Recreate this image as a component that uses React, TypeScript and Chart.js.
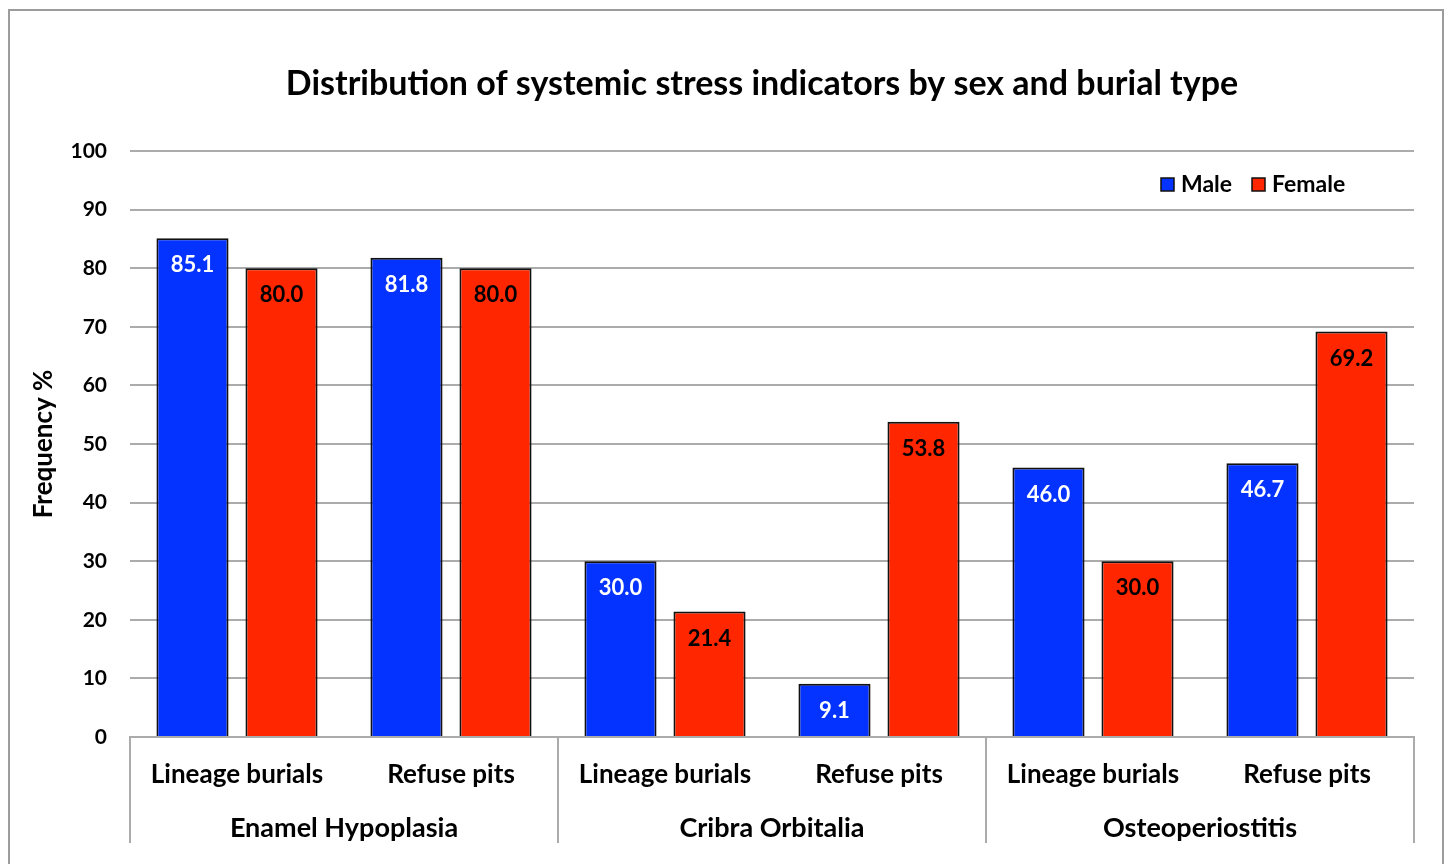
import React, { useEffect, useRef } from "react";
import { Chart, registerables } from "chart.js";

Chart.register(...registerables);

const categories = [
  "Lineage burials",
  "Refuse pits",
  "Lineage burials",
  "Refuse pits",
  "Lineage burials",
  "Refuse pits",
];
const groups = ["Enamel Hypoplasia", "Cribra Orbitalia", "Osteoperiostitis"];
const maleValues = [85.1, 81.8, 30.0, 9.1, 46.0, 46.7];
const femaleValues = [80.0, 80.0, 21.4, 53.8, 30.0, 69.2];
const seriesNames = ["Male", "Female"];
const yTicks = { min: 0, max: 100, step: 10 };
const titleText = "Distribution of systemic stress indicators by sex and burial type";
const yTitle = "Frequency %";

const BLUE = "#0433ff";
const RED = "#ff2600";
const GRID = "#ababab";
const FONT = "Lato, 'Open Sans', sans-serif";

const decor = {
  id: "decor",
  afterDraw(chart: any) {
    const { ctx, chartArea, scales } = chart;
    const x = scales.x;
    ctx.save();
    // outer frame
    ctx.strokeStyle = "#9c9c9c";
    ctx.lineWidth = 2;
    ctx.strokeRect(9, 10, 1434, 900);

    // title
    ctx.fillStyle = "#000";
    ctx.font = `bold 34px ${FONT}`;
    ctx.textAlign = "center";
    ctx.textBaseline = "middle";
    ctx.fillText(titleText, 762, 84);

    // y title
    ctx.save();
    ctx.translate(44, 444);
    ctx.rotate(-Math.PI / 2);
    ctx.font = `bold 26px ${FONT}`;
    ctx.fillText(yTitle, 0, 0);
    ctx.restore();

    // legend
    ctx.font = `bold 23px ${FONT}`;
    ctx.textAlign = "left";
    const legendItems = [
      { label: seriesNames[0], color: BLUE, x: 1161 },
      { label: seriesNames[1], color: RED, x: 1252 },
    ];
    legendItems.forEach((it) => {
      ctx.fillStyle = it.color;
      ctx.fillRect(it.x, 178, 13, 13);
      ctx.strokeStyle = "#111";
      ctx.lineWidth = 1.5;
      ctx.strokeRect(it.x, 178, 13, 13);
      ctx.fillStyle = "#000";
      ctx.fillText(it.label, it.x + 20, 185);
    });

    // group separators and labels
    const half = (x.getPixelForValue(1) - x.getPixelForValue(0)) / 2;
    ctx.strokeStyle = GRID;
    ctx.lineWidth = 2;
    for (let g = 0; g <= groups.length; g++) {
      const px = Math.round(x.getPixelForValue(g * 2) - half);
      ctx.beginPath();
      ctx.moveTo(px, chartArea.bottom);
      ctx.lineTo(px, 843);
      ctx.stroke();
    }
    ctx.fillStyle = "#000";
    ctx.font = `bold 27px ${FONT}`;
    ctx.textAlign = "center";
    groups.forEach((gname, g) => {
      const cx = (x.getPixelForValue(g * 2) + x.getPixelForValue(g * 2 + 1)) / 2;
      ctx.fillText(gname, cx, 828);
    });

    // data labels
    ctx.font = `bold 22px ${FONT}`;
    chart.data.datasets.forEach((ds: any, di: number) => {
      const meta = chart.getDatasetMeta(di);
      ctx.fillStyle = di === 0 ? "#fff" : "#000";
      meta.data.forEach((el: any, i: number) => {
        ctx.fillText(Number(ds.data[i]).toFixed(1), el.x, el.y + 27);
      });
    });
    ctx.restore();
  },
};

export default function App() {
  const ref = useRef<HTMLCanvasElement>(null);
  useEffect(() => {
    if (!ref.current) return;
    const chart = new Chart(ref.current, {
      type: "bar",
      data: {
        labels: categories,
        datasets: [
          {
            label: seriesNames[0],
            data: maleValues,
            backgroundColor: BLUE,
            borderColor: "#111",
            borderWidth: 2,
            borderSkipped: "bottom",
            categoryPercentage: 0.832,
            barPercentage: 0.81,
          },
          {
            label: seriesNames[1],
            data: femaleValues,
            backgroundColor: RED,
            borderColor: "#111",
            borderWidth: 2,
            borderSkipped: "bottom",
            categoryPercentage: 0.832,
            barPercentage: 0.81,
          },
        ],
      },
      options: {
        responsive: false,
        animation: false,
        layout: { padding: { top: 151, right: 34, left: 0, bottom: 0 } },
        plugins: {
          legend: { display: false },
          title: { display: false },
          tooltip: { enabled: false },
        },
        scales: {
          x: {
            afterFit: (s: any) => {
              s.height = 127;
            },
            grid: { display: false },
            border: { display: true, color: GRID, width: 2 },
            ticks: {
              color: "#000",
              font: { family: FONT, size: 26, weight: "bold" },
              padding: 14,
              maxRotation: 0,
              autoSkip: false,
            },
          },
          y: {
            min: yTicks.min,
            max: yTicks.max,
            afterFit: (s: any) => {
              s.width = 130;
            },
            grid: { color: GRID, lineWidth: 2, drawTicks: false },
            border: { display: false },
            ticks: {
              stepSize: yTicks.step,
              color: "#000",
              padding: 23,
              font: { family: FONT, size: 21, weight: "bold" },
            },
          },
        },
      },
      plugins: [decor],
    });
    return () => chart.destroy();
  }, []);
  return (
    <canvas
      ref={ref}
      width={1448}
      height={864}
      style={{ position: "fixed", left: 0, top: 0, display: "block" }}
    />
  );
}
